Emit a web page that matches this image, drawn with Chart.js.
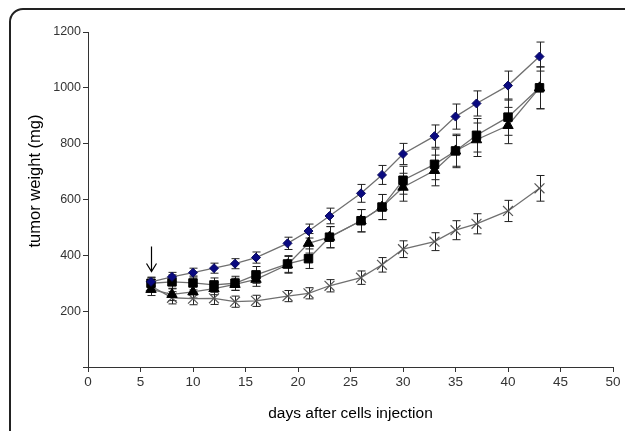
<!DOCTYPE html>
<html>
<head>
<meta charset="utf-8">
<script src="https://cdn.jsdelivr.net/npm/chart.js@4"></script>
<style>
  html, body { margin: 0; padding: 0; background: #fff; overflow: hidden; }
  #wrap { position: relative; width: 625px; height: 431px; }
  #frame { position: absolute; left: 9px; top: 8px; width: 700px; height: 500px;
           border: 2px solid #222; border-radius: 14px; box-sizing: border-box; }
  canvas { position: absolute; left: 0; top: 0; }
</style>
</head>
<body>
<div id="wrap">
  <div id="frame"></div>
  <canvas id="myChart" width="625" height="431"></canvas>
</div>
<script>
const days = [6, 8, 10, 12, 14, 16, 19, 21, 23, 26, 28, 30, 33, 35, 37, 40, 43]

const diamond = [305, 323, 338, 354, 370, 392, 443, 487, 541, 622, 688, 763, 827, 897, 944, 1008, 1112]
const diamondErr = [15, 16, 16, 18, 18, 20, 22, 25, 28, 32, 34, 38, 40, 45, 45, 52, 52]

const square = [300, 305, 301, 294, 300, 330, 369, 388, 465, 524, 573, 669, 726, 774, 830, 895, 1000]
const squareErr = [22, 25, 25, 25, 25, 30, 30, 35, 38, 40, 45, 50, 55, 60, 60, 65, 75]

const triangle = [278, 260, 269, 281, 296, 314, 366, 443, 465, 524, 573, 644, 704, 774, 814, 865, 1000]
const triangleErr = [22, 22, 22, 22, 22, 25, 30, 35, 38, 40, 45, 50, 55, 55, 60, 65, 75]

const cross = [290, 248, 245, 246, 234, 237, 254, 264, 291, 320, 366, 422, 449, 490, 513, 559, 640]
const crossErr = [20, 22, 22, 22, 20, 20, 20, 20, 22, 24, 26, 30, 32, 34, 36, 38, 46]

const xTicks = [0, 5, 10, 15, 20, 25, 30, 35, 40, 45, 50]
const yTicks = [0, 200, 400, 600, 800, 1000, 1200]

const yTitle = 'tumor weight (mg)'

// treatment start arrow (day, from, to)
const arrow = { day: 6, from: 432, to: 342 }

function pts(ys) {
  return days.map((d, i) => ({ x: d, y: ys[i] }))
}

const errs = [diamondErr, squareErr, triangleErr, crossErr]

const errorBars = {
  id: 'errorBars',
  beforeDatasetsDraw(chart) {
    const ctx = chart.ctx
    const xs = chart.scales.x
    const ys = chart.scales.y
    ctx.save()
    ctx.strokeStyle = '#222'
    ctx.lineWidth = 1
    chart.data.datasets.forEach((ds, k) => {
      ds.data.forEach((p, i) => {
        const px = Math.round(xs.getPixelForValue(p.x)) + 0.5
        const top = ys.getPixelForValue(p.y + errs[k][i])
        const bot = ys.getPixelForValue(p.y - errs[k][i])
        ctx.beginPath()
        ctx.moveTo(px, top)
        ctx.lineTo(px, bot)
        ctx.moveTo(px - 4, top)
        ctx.lineTo(px + 4, top)
        ctx.moveTo(px - 4, bot)
        ctx.lineTo(px + 4, bot)
        ctx.stroke()
      })
    })
    // arrow
    const ax = Math.round(xs.getPixelForValue(arrow.day)) + 0.5
    const a1 = ys.getPixelForValue(arrow.from)
    const a2 = ys.getPixelForValue(arrow.to)
    ctx.strokeStyle = '#000'
    ctx.lineWidth = 1.2
    ctx.beginPath()
    ctx.moveTo(ax, a1)
    ctx.lineTo(ax, a2)
    ctx.moveTo(ax - 5, a2 - 8)
    ctx.lineTo(ax, a2)
    ctx.lineTo(ax + 5, a2 - 8)
    ctx.stroke()
    ctx.restore()
  },
  afterDraw(chart) {
    // y title sits a bit above the middle of the axis in the original
    const ctx = chart.ctx
    ctx.save()
    ctx.translate(35, 181)
    ctx.rotate(-Math.PI / 2)
    ctx.fillStyle = '#000'
    ctx.font = '16.5px "Liberation Sans"'
    ctx.textAlign = 'center'
    ctx.textBaseline = 'middle'
    ctx.fillText(yTitle, 0, 0)
    ctx.restore()
  }
}

const lineCol = '#707070'

const data = {
  datasets: [
    {
      label: 'diamond',
      data: pts(diamond),
      borderColor: lineCol,
      borderWidth: 1.3,
      pointStyle: 'rectRot',
      pointRadius: 4.5,
      pointBackgroundColor: '#0a0a80',
      pointBorderColor: '#0a0a60',
      pointBorderWidth: 1,
    },
    {
      label: 'square',
      data: pts(square),
      borderColor: lineCol,
      borderWidth: 1.3,
      pointStyle: 'rect',
      pointRadius: 6,
      pointBackgroundColor: '#000',
      pointBorderColor: '#000',
      pointBorderWidth: 1,
    },
    {
      label: 'triangle',
      data: pts(triangle),
      borderColor: lineCol,
      borderWidth: 1.3,
      pointStyle: 'triangle',
      pointRadius: 6,
      pointBackgroundColor: '#000',
      pointBorderColor: '#000',
      pointBorderWidth: 1,
    },
    {
      label: 'cross',
      data: pts(cross),
      borderColor: lineCol,
      borderWidth: 1.3,
      pointStyle: 'crossRot',
      pointRadius: 7,
      pointBackgroundColor: '#555',
      pointBorderColor: '#555',
      pointBorderWidth: 1.2,
    },
  ],
}

const config = {
  type: 'line',
  data: data,
  plugins: [errorBars],
  options: {
    responsive: false,
    animation: false,
    layout: { padding: { top: 32, right: 12, left: 0, bottom: 0 } },
    plugins: { legend: { display: false }, tooltip: { enabled: false } },
    scales: {
      x: {
        type: 'linear',
        min: 0,
        max: 50,
        afterBuildTicks: (s) => { s.ticks = xTicks.map(v => ({ value: v })) },
        afterFit: (s) => { s.height = 64 },
        grid: { display: true, drawOnChartArea: false, drawTicks: true, tickLength: 5, color: '#333' },
        border: { display: true, color: '#333', width: 1 },
        ticks: { color: '#333', font: { family: 'Liberation Sans', size: 13.5 }, padding: 2, maxRotation: 0 },
        title: { display: true, text: 'days after cells injection', color: '#000',
                 font: { family: 'Liberation Sans', size: 15.5 }, padding: { top: 0, bottom: 8 } },
      },
      y: {
        min: 0,
        max: 1200,
        afterBuildTicks: (s) => { s.ticks = yTicks.map(v => ({ value: v })) },
        afterFit: (s) => { s.width = 88 },
        grid: { display: true, drawOnChartArea: false, drawTicks: true, tickLength: 5, color: '#333' },
        border: { display: true, color: '#333', width: 1 },
        ticks: { color: '#333', font: { family: 'Liberation Sans', size: 12.5 }, padding: 2,
                 callback: (v) => (v === 0 ? '' : v) },
      },
    },
  },
}

const myChart = new Chart(document.getElementById('myChart'), config)
</script>
</body>
</html>
